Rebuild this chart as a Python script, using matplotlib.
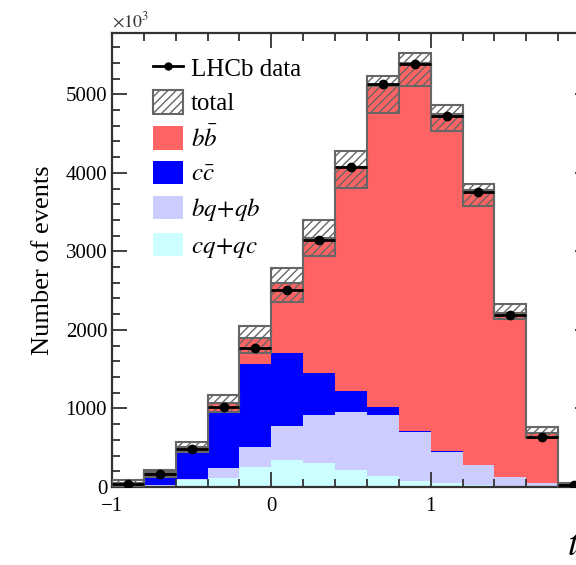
# encoding:utf-8
"""
Stacked time distribution with hatched total band and LHCb data points
"""

import matplotlib
matplotlib.use('Agg')
import matplotlib.pyplot as plt
from matplotlib.lines import Line2D
from matplotlib.patches import Patch
from matplotlib.ticker import MultipleLocator
import numpy as np

# bin edges (-1 .. 2, width 0.2)
edges = np.round(np.arange(-1.0, 2.01, 0.2), 2)

# stacked components (events), bottom -> top
cq_qc = [5, 13, 90, 120, 254, 343, 300, 216, 140, 76, 51, 25, 12, 5, 1]
bq_qb = [5, 7, 15, 122, 255, 433, 616, 744, 776, 624, 394, 255, 115, 46, 2]
c_cbar = [20, 98, 331, 699, 1056, 929, 534, 261, 102, 12, 13, 5, 3, 2, 1]
b_bbar = [20, 67, 77, 134, 331, 890, 1715, 2854, 4082, 4682, 4292, 3495, 2090, 637, 26]

# total uncertainty band (low / high)
total_lo = [13, 123, 450, 954, 1705, 2354, 2939, 3804, 4758, 5102, 4529, 3575, 2137, 623, 15]
total_hi = [89, 216, 568, 1170, 2048, 2786, 3397, 4280, 5229, 5522, 4860, 3855, 2328, 763, 45]

# data
data = [38, 161, 483, 1022, 1768, 2506, 3142, 4070, 5127, 5382, 4720, 3753, 2188, 636, 25]

plt.rcParams['font.family'] = ['Liberation Serif', 'DejaVu Serif']
plt.rcParams['mathtext.fontset'] = 'stix'
plt.rcParams['hatch.linewidth'] = 1.0
plt.rcParams['hatch.color'] = '#707070'

fig = plt.figure(figsize=(5.76, 5.65), dpi=100)
# axes runs past the right edge of the picture (cropped figure)
ax = fig.add_axes([112 / 576, 1 - 487 / 565, 478 / 576, 454 / 565])

left = edges[:-1]
width = 0.2
colors = ['#ccffff', '#ccccff', '#0000ff', '#ff6363']
bottom = np.zeros(len(left))
for vals, col in zip([cq_qc, bq_qb, c_cbar, b_bbar], colors):
    ax.bar(left, vals, width=width, bottom=bottom, align='edge', color=col,
           linewidth=0, zorder=1)
    bottom = bottom + np.array(vals)

# outline of the stack
ax.stairs(bottom, edges, baseline=0, color='#666666', linewidth=1.5, zorder=2)

# hatched total band
lo = np.array(total_lo)
hi = np.array(total_hi)
ax.bar(left, hi - lo, width=width, bottom=lo, align='edge', facecolor='none',
       edgecolor='#666666', hatch='////', linewidth=1.5, zorder=3)

# data points
centers = left + width / 2
ax.errorbar(centers, data, xerr=width / 2, fmt='o', color='black',
            markersize=6, elinewidth=2, capsize=0, zorder=4)

ax.set_xlim(-1, 2)
ax.set_ylim(0, 5780)
ax.set_xticks([-1, 0, 1])
ax.set_xticklabels(['\u22121', '0', '1'])
ax.xaxis.set_minor_locator(MultipleLocator(0.2))
ax.yaxis.set_major_locator(MultipleLocator(1000))
ax.yaxis.set_minor_locator(MultipleLocator(200))
ax.tick_params(which='both', direction='in', top=True, right=True,
               labelsize=15, width=1.3, color='#333333')
ax.tick_params(which='major', length=11)
ax.tick_params(which='minor', length=6)
ax.tick_params(axis='x', pad=7)
# major tick at x = 2 (no label, it falls outside the picture)
ax.set_xticks([2], minor=True)
ax.xaxis.set_minor_locator(MultipleLocator(0.2))
for s in ax.spines.values():
    s.set_linewidth(1.6)
    s.set_color('#333333')

ax.set_ylabel('Number of events', fontsize=19, labelpad=8)
ax.text(0.0, 1.005, r'$\times10^{3}$', transform=ax.transAxes, fontsize=13,
        ha='left', va='bottom', color='#333333')
fig.text(567 / 576, 1 - 555 / 565, r'$t$', fontsize=27, ha='left', va='baseline')

handles = [
    Line2D([0], [0], color='black', marker='o', markersize=5, linewidth=2),
    Patch(facecolor='white', edgecolor='#666666', hatch='////', linewidth=1.5),
    Patch(facecolor=colors[3], edgecolor='none'),
    Patch(facecolor=colors[2], edgecolor='none'),
    Patch(facecolor=colors[1], edgecolor='none'),
    Patch(facecolor=colors[0], edgecolor='none'),
]
labels = ['LHCb data', 'total', r'$b\bar{b}$', r'$c\bar{c}$',
          r'$bq\!+\!qb$', r'$cq\!+\!qc$']
ax.legend(handles, labels, loc='upper left', bbox_to_anchor=(0.06, 0.978),
          frameon=False, fontsize=18, handlelength=1.2, handleheight=1.05,
          handletextpad=0.3, labelspacing=0.39, borderpad=0)

plt.savefig('out.png', dpi=100)
